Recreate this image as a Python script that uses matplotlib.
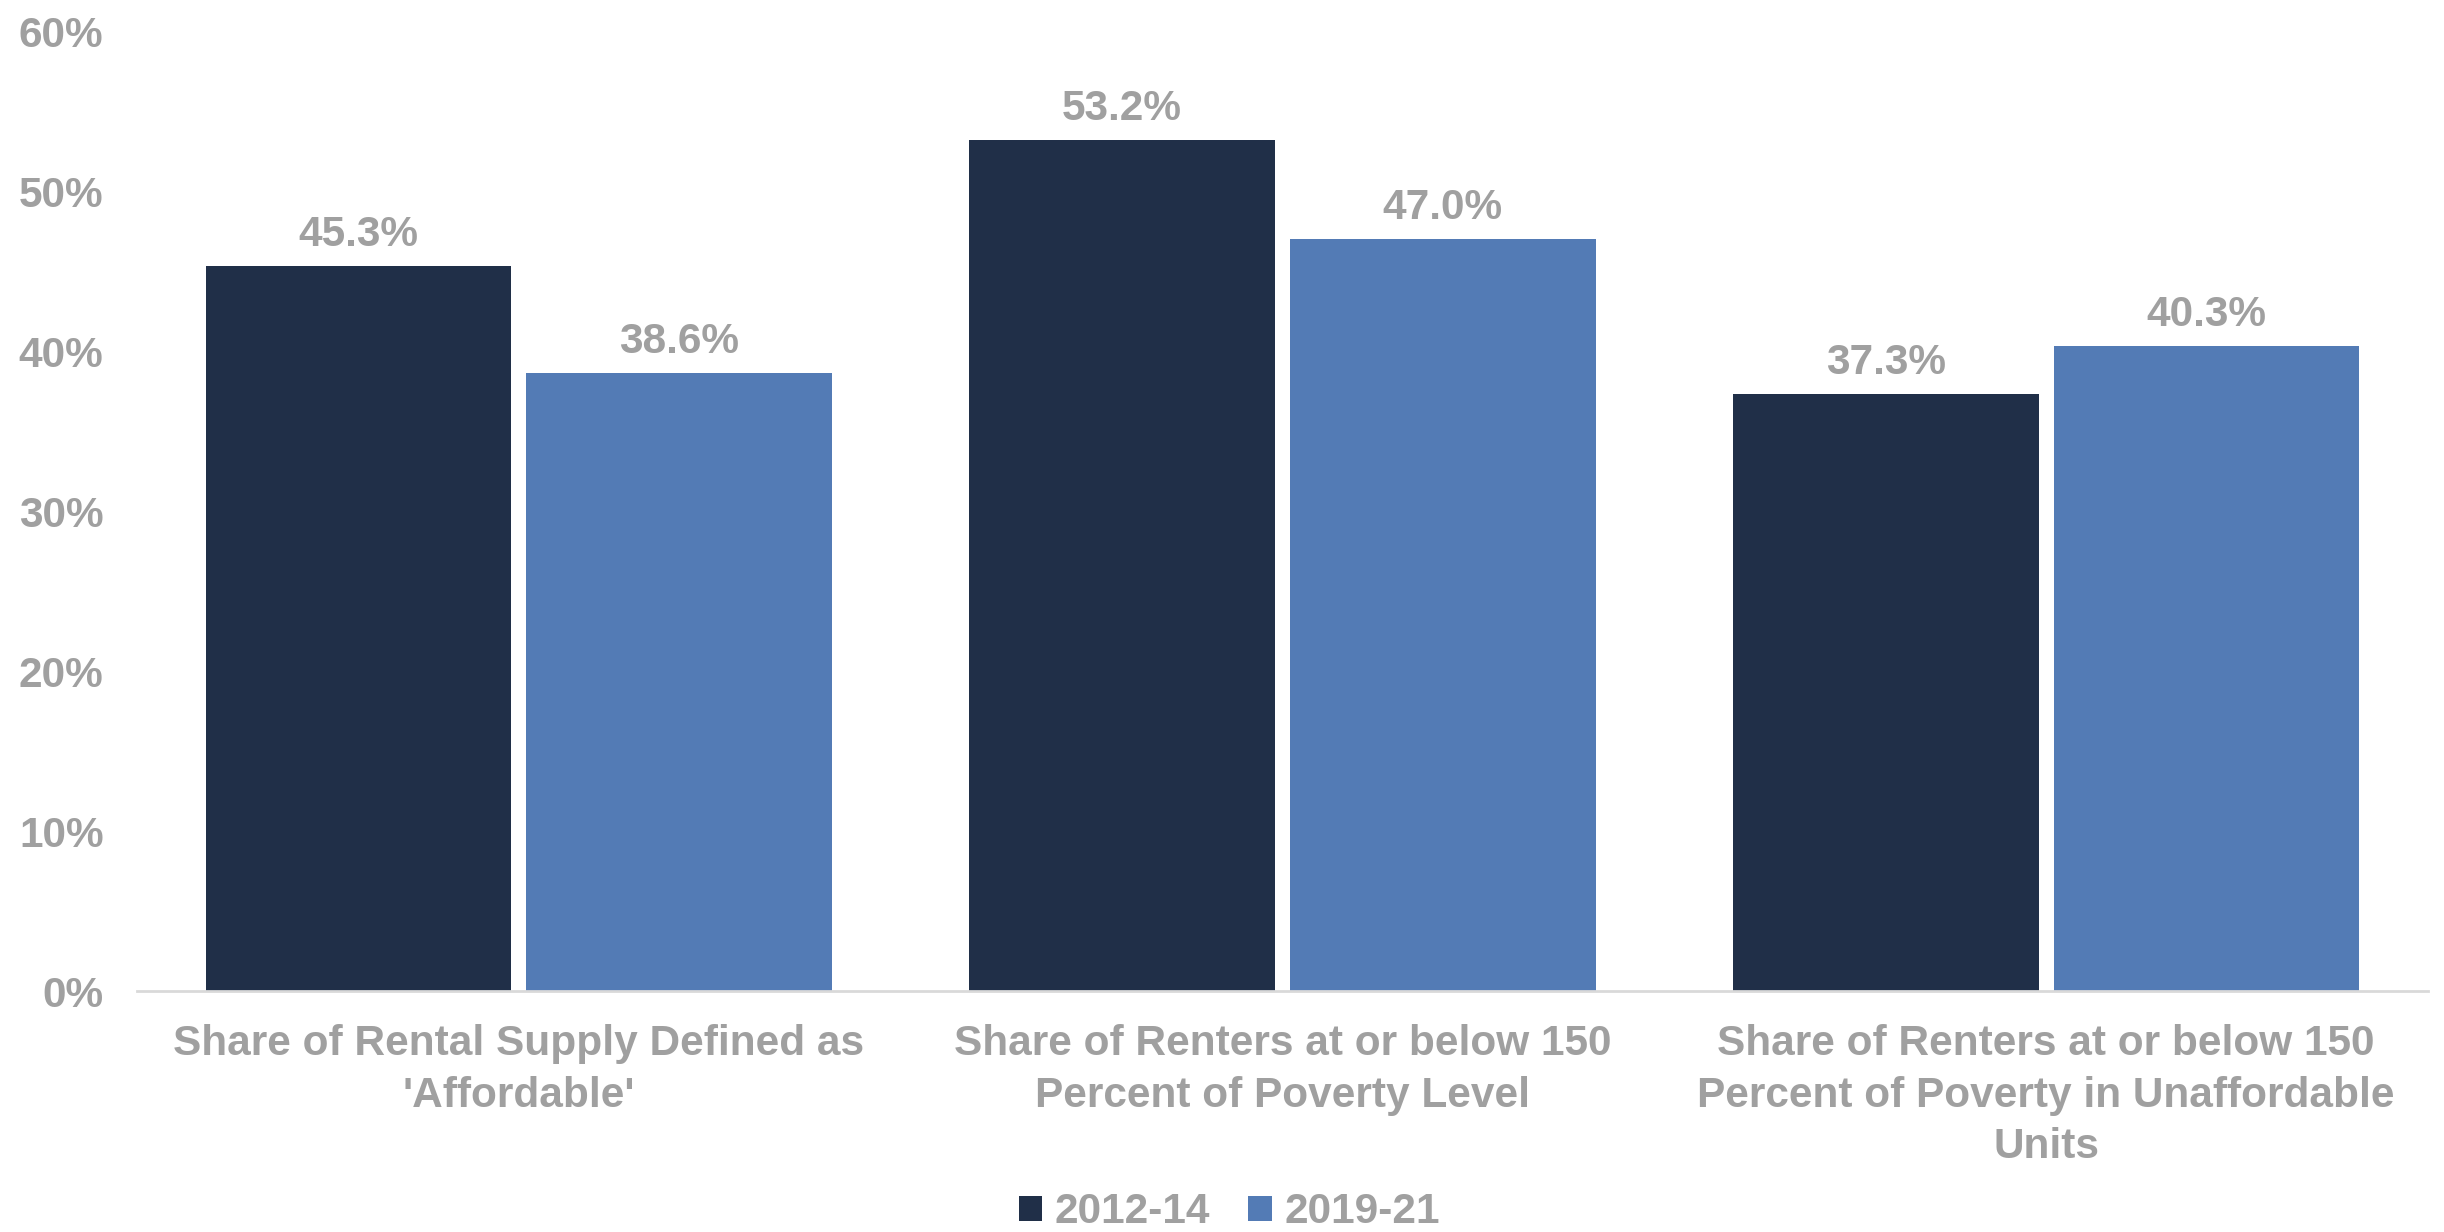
import matplotlib.pyplot as plt
import numpy as np
from matplotlib.ticker import PercentFormatter

categories = [
    "Share of Rental Supply Defined as\n'Affordable'",
    "Share of Renters at or below 150\nPercent of Poverty Level",
    "Share of Renters at or below 150\nPercent of Poverty in Unaffordable\nUnits",
]
series_names = ["2012-14", "2019-21"]
vals_2012 = [45.3, 53.2, 37.3]
vals_2019 = [38.6, 47.0, 40.3]
yticks = [0, 10, 20, 30, 40, 50, 60]

colors = ["#202f48", "#537bb5"]
grey = "#a0a0a0"
fs = 30.5

plt.rcParams["font.family"] = ["Liberation Sans", "DejaVu Sans"]
plt.rcParams["font.weight"] = "bold"

fig = plt.figure(figsize=(24.44, 12.32), dpi=100)
ax = fig.add_axes([0.056, 0.1956, 0.9375, 0.7792])

x = np.arange(len(categories))
w = 0.4
off = 0.21
for vals, dx, col, name in zip([vals_2012, vals_2019], [-off, off], colors, series_names):
    bars = ax.bar(x + dx, vals, width=w, color=col, label=name)
    for b, v in zip(bars, vals):
        ax.annotate(f"{v:.1f}%", (b.get_x() + b.get_width() / 2, v),
                    xytext=(0, 8), textcoords="offset points",
                    ha="center", va="bottom", fontsize=fs, color=grey,
                    fontweight="bold")

ax.set_xlim(-0.5, 2.5)
ax.set_ylim(0, 60)
ax.set_yticks(yticks)
ax.yaxis.set_major_formatter(PercentFormatter(decimals=0))
ax.set_xticks(x)
ax.set_xticklabels(categories, linespacing=1.36)

for s in ["top", "right", "left"]:
    ax.spines[s].set_visible(False)
ax.spines["bottom"].set_color("#d9d9d9")
ax.spines["bottom"].set_linewidth(2)
ax.tick_params(axis="both", length=0, labelsize=fs, labelcolor=grey)
ax.tick_params(axis="y", pad=24)
ax.tick_params(axis="x", pad=24)

ax.legend(loc="center", bbox_to_anchor=(0.503, 0.016), bbox_transform=fig.transFigure,
          ncol=2, frameon=False, fontsize=fs, labelcolor=grey,
          handlelength=0.55, handleheight=0.55, handletextpad=0.3, columnspacing=0.9)

fig.savefig("out.png", dpi=100, facecolor="white")
